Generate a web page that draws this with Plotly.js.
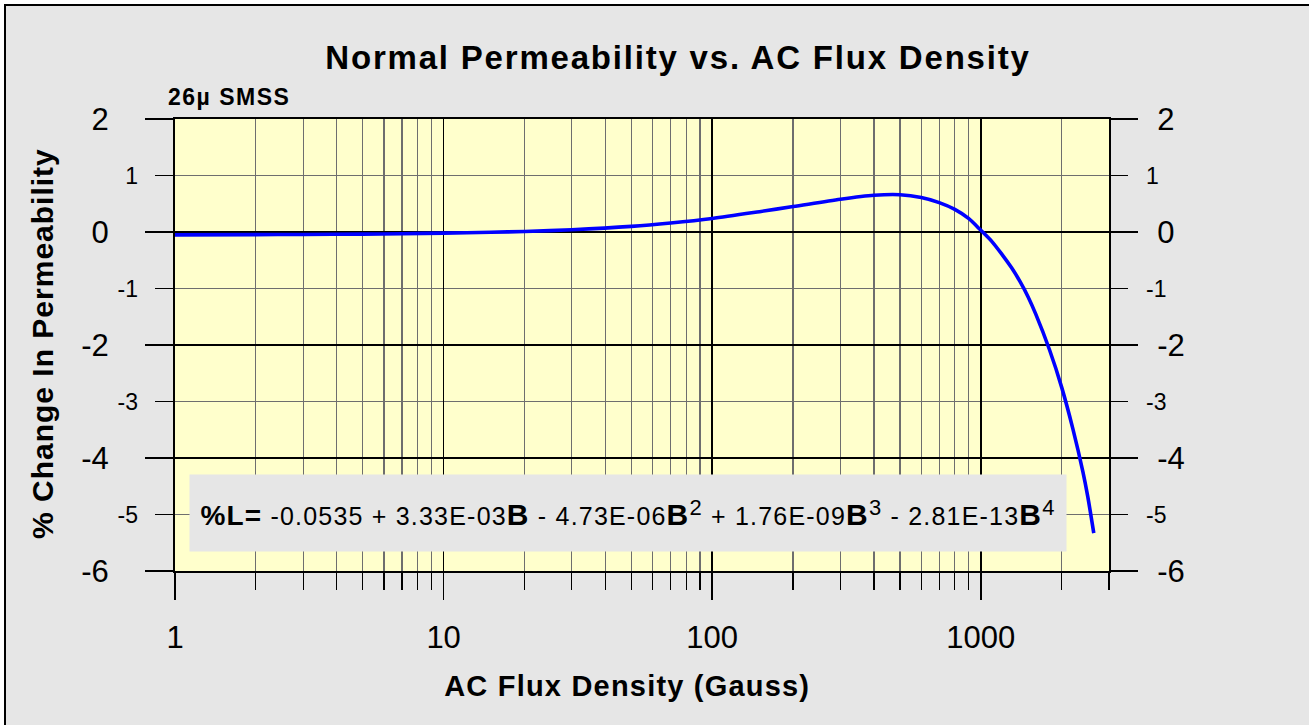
<!DOCTYPE html>
<html>
<head>
<meta charset="utf-8">
<script src="https://cdn.plot.ly/plotly-3.0.1.min.js"></script>
<style>
  html, body { margin: 0; padding: 0; background: #ffffff; }
  #frame { position: absolute; left: 4px; top: 4px; width: 1320px; height: 740px;
           background: #e6e6e6; border: 2px solid #000; box-sizing: border-box; }
  #chart { position: absolute; left: 0; top: 0; width: 1309px; height: 725px; }
  #chart .gtitle { letter-spacing: 1.8px; }
  #chart g.annotation[data-index="0"] text { letter-spacing: 1.5px; }
  #chart g.annotation[data-index="1"] text { letter-spacing: 1.2px; }
  #chart g.annotation[data-index="2"] text { letter-spacing: 1px; }
  #chart g.annotation[data-index="3"] text { letter-spacing: 1.2px; }
</style>
</head>
<body>
<div id="frame"></div>
<div id="chart"></div>
<script>
// AC flux density (Gauss)
var fluxB = [1, 2, 3, 5, 7, 10, 15, 20, 30, 50, 70, 100, 150, 200, 300, 400, 500, 600, 700, 800, 900, 1000, 1100, 1200, 1300, 1400, 1500, 1600, 1800, 2000, 2200, 2400, 2500, 2633];
// % change in permeability
var pctChange = [-0.05, -0.047, -0.043, -0.037, -0.030, -0.02, -0.005, 0.01, 0.04, 0.10, 0.16, 0.24, 0.36, 0.45, 0.58, 0.65, 0.66, 0.61, 0.52, 0.40, 0.24, 0.03, -0.17, -0.40, -0.63, -0.88, -1.15, -1.45, -2.08, -2.75, -3.48, -4.25, -4.68, -5.33];

var xMajorTicks = [1, 10, 100, 1000];
var xMajorLabels = ["1", "10", "100", "1000"];
var xMinorTicks = [2,3,4,5,6,7,8,9,20,30,40,50,60,70,80,90,200,300,400,500,600,700,800,900,2000,3000];
var yMajorTicks = [-6, -4, -2, 0, 2];
var yMajorLabels = ["-6", "-4", "-2", "0", "2"];
var yMinorTicks = [-5, -3, -1, 1];
var yMinorLabels = ["-5", "-3", "-1", "1"];

var titleText = "Normal Permeability vs. AC Flux Density";
var xTitle = "AC Flux Density (Gauss)";
var yTitle = "% Change In Permeability";
var subLabel = "26\u00b5 SMSS";
var Bb = "<b><span style='font-size:30px'>B</span></b>";
function sp(n) { return "<sup><span style='font-size:22px'>" + n + "</span></sup>"; }
var equation = "<b><span style='font-size:28px'>%L=</span></b> -0.0535 + 3.33E-03" + Bb +
  " - 4.73E-06" + Bb + sp(2) + " + 1.76E-09" + Bb + sp(3) + " - 2.81E-13" + Bb + sp(4);

var FONT = "Liberation Sans, Arial, Helvetica, sans-serif";
var yRange = [-6, 2];

var traces = [
  { x: fluxB, y: pctChange, type: "scatter", mode: "lines",
    line: { color: "#0000ff", width: 3.6, shape: "spline", smoothing: 0.8 },
    xaxis: "x", yaxis: "y", showlegend: false, hoverinfo: "x+y" }
];
["y2", "y3", "y4"].forEach(function (ax) {
  traces.push({ x: fluxB, y: pctChange, type: "scatter", mode: "lines",
    line: { color: "rgba(0,0,0,0)", width: 0 }, opacity: 0,
    xaxis: "x", yaxis: ax, showlegend: false, hoverinfo: "skip" });
});

var layout = {
  width: 1309, height: 725,
  paper_bgcolor: "rgba(0,0,0,0)",
  plot_bgcolor: "#ffffcc",
  margin: { l: 175, r: 200, t: 119, b: 154 },
  font: { family: FONT, color: "#000" },
  showlegend: false,
  title: { text: "<b>" + titleText + "</b>", font: { size: 33, family: FONT, color: "#000" },
           xref: "container", yref: "container", x: 678 / 1309, xanchor: "center",
           y: 1 - 57 / 725, yanchor: "middle" },
  xaxis: {
    type: "log", range: [0, Math.log10(3000)], fixedrange: true,
    tickmode: "array", tickvals: xMajorTicks, ticktext: xMajorLabels,
    ticks: "outside", ticklen: 27, tickwidth: 1.5, tickcolor: "#000",
    ticklabelstandoff: 11,
    tickfont: { size: 31, family: FONT, color: "#000" },
    showgrid: true, gridcolor: "#000", gridwidth: 1.5,
    showline: true, linecolor: "#000", linewidth: 2, mirror: true,
    zeroline: false,
    minor: { tickmode: "array", tickvals: xMinorTicks, ticks: "outside", ticklen: 17,
             tickwidth: 1.2, tickcolor: "#000", showgrid: true, gridcolor: "#6e6e6e", gridwidth: 1.2 }
  },
  yaxis: {
    range: yRange, fixedrange: true,
    tickmode: "array", tickvals: yMajorTicks, ticktext: yMajorLabels,
    ticks: "outside", ticklen: 28, tickwidth: 1.5, tickcolor: "#000",
    ticklabelstandoff: 30,
    tickfont: { size: 31, family: FONT, color: "#000" },
    showgrid: true, gridcolor: "#000", gridwidth: 1.5,
    showline: true, linecolor: "#000", linewidth: 2, mirror: true,
    zeroline: false,
    minor: { tickmode: "array", tickvals: yMinorTicks, ticks: "outside", ticklen: 18,
             tickwidth: 1.2, tickcolor: "#000", showgrid: true, gridcolor: "#6e6e6e", gridwidth: 1.2 }
  },
  yaxis3: {
    overlaying: "y", side: "left", range: yRange, fixedrange: true,
    tickmode: "array", tickvals: yMinorTicks, ticktext: yMinorLabels,
    ticks: "", showgrid: false, zeroline: false,
    showline: false, ticklabelstandoff: 36,
    tickfont: { size: 23, family: FONT, color: "#000" }
  },
  yaxis2: {
    overlaying: "y", side: "right", range: yRange, fixedrange: true,
    tickmode: "array", tickvals: yMajorTicks, ticktext: yMajorLabels,
    ticks: "outside", ticklen: 28, tickwidth: 1.5, tickcolor: "#000",
    ticklabelstandoff: 13,
    tickfont: { size: 31, family: FONT, color: "#000" },
    showgrid: false, zeroline: false, showline: false,
    minor: { tickmode: "array", tickvals: yMinorTicks, ticks: "outside", ticklen: 18,
             tickwidth: 1.2, tickcolor: "#000", showgrid: false }
  },
  yaxis4: {
    overlaying: "y", side: "right", range: yRange, fixedrange: true,
    tickmode: "array", tickvals: yMinorTicks, ticktext: yMinorLabels,
    ticks: "", showgrid: false, zeroline: false,
    showline: false, ticklabelstandoff: 36,
    tickfont: { size: 23, family: FONT, color: "#000" }
  },
  annotations: [
    { text: "<b>" + subLabel + "</b>", xref: "paper", yref: "paper",
      x: -0.003, xanchor: "left", y: (571 - 97) / 452, yanchor: "middle",
      showarrow: false, font: { size: 23, family: FONT, color: "#000" } },
    { text: "<b>" + xTitle + "</b>", xref: "paper", yref: "paper",
      x: (627 - 175) / 934, xanchor: "center", y: (571 - 686) / 452, yanchor: "middle",
      showarrow: false, font: { size: 29, family: FONT, color: "#000" } },
    { text: "<b>" + yTitle + "</b>", xref: "paper", yref: "paper", textangle: -90,
      x: (42 - 175) / 934, xanchor: "center", y: (571 - 344) / 452, yanchor: "middle",
      showarrow: false, font: { size: 30, family: FONT, color: "#000" } },
    { text: equation, xref: "paper", yref: "paper",
      x: (628 - 175) / 934, xanchor: "center", y: (571 - 513) / 452, yanchor: "middle",
      width: 870, height: 70, borderpad: 3, bgcolor: "#e6e6e6", align: "center",
      showarrow: false, font: { size: 25, family: FONT, color: "#000" } }
  ]
};

Plotly.newPlot("chart", traces, layout, { displayModeBar: false, staticPlot: true });
</script>
</body>
</html>
